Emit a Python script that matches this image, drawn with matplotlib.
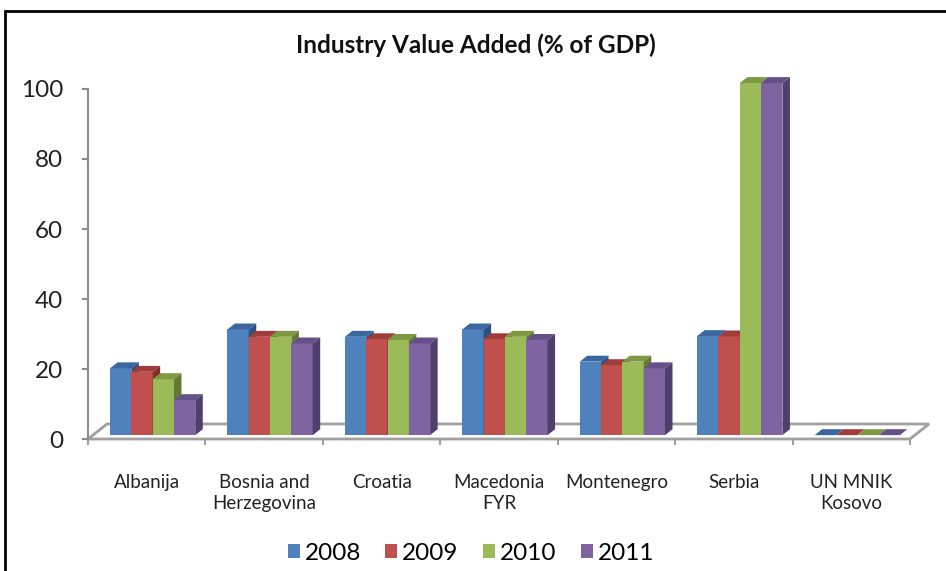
import numpy as np
import matplotlib
matplotlib.use('Agg')
import matplotlib.pyplot as plt
from matplotlib.patches import Polygon, Rectangle, Patch

plt.rcParams['font.family'] = ['Lato', 'DejaVu Sans']

countries = ['Albanija', 'Bosnia and\nHerzegovina', 'Croatia', 'Macedonia\nFYR',
             'Montenegro', 'Serbia', 'UN MNIK\nKosovo']
years = ['2008', '2009', '2010', '2011']
v2008 = [20.2, 31.3, 29.2, 31.3, 22.1, 29.4, 0]
v2009 = [19.2, 29.2, 28.5, 28.5, 21.1, 29.3, 0]
v2010 = [17.1, 29.2, 28.3, 29.2, 22.1, 101.7, 0]
v2011 = [11.1, 27.3, 27.3, 28.3, 20.2, 101.7, 0]
yticks = [0, 20, 40, 60, 80, 100]

front = ['#4F81BD', '#C0504D', '#9BBB59', '#8064A2']
top_c = ['#3A67A0', '#A03C3A', '#7D9A42', '#65508A']
side_c = ['#2F5182', '#7F302E', '#637A34', '#4F3F6D']

fig = plt.figure(figsize=(9.46, 5.71), dpi=100)
W, H = 946, 571
ax = fig.add_axes([88 / W, (H - 439) / H, 822 / W, 350 / H])
ax.set_xlim(-0.5, 6.5)
ax.set_ylim(0, 100)

x = np.arange(len(countries))
base = 1.1          # floor level of the front faces
bw = 0.1815         # bar width
off0 = -0.3125      # left edge of first bar relative to category centre
ddx, ddy = 0.064, 1.7   # bar depth offset

gray = '#A0A0A0'
# floor
fdx, fdy = 0.162, 4.3
floor = Polygon([(-0.5, 0), (6.5, 0), (6.5 + fdx, fdy), (-0.5 + fdx, fdy)],
                closed=True, fill=False, edgecolor=gray, lw=2, clip_on=False, zorder=1)
ax.add_patch(floor)

for i, vals in enumerate([v2008, v2009, v2010, v2011]):
    vals = np.array(vals, dtype=float)
    h = np.maximum(vals - base, 0)
    left = x + off0 + i * bw
    ax.bar(left, h, width=bw, bottom=base, align='edge', color=front[i],
           edgecolor='none', clip_on=False, zorder=3 + i)
    for xl, hv in zip(left, h):
        t = base + hv
        ax.add_patch(Polygon([(xl, t), (xl + bw, t), (xl + bw + ddx, t + ddy), (xl + ddx, t + ddy)],
                             closed=True, facecolor=top_c[i], edgecolor='none',
                             clip_on=False, zorder=3 + i))
        if hv > 0:
            ax.add_patch(Polygon([(xl + bw, base), (xl + bw + ddx, base + ddy),
                                  (xl + bw + ddx, t + ddy), (xl + bw, t)],
                                 closed=True, facecolor=side_c[i], edgecolor='none',
                                 clip_on=False, zorder=3 + i))

for s in ['top', 'right', 'bottom']:
    ax.spines[s].set_visible(False)
ax.spines['left'].set_color('#8C8C8C')
ax.spines['left'].set_linewidth(1.5)

ax.set_yticks(yticks)
ax.set_yticklabels([str(t) for t in yticks], fontsize=17.5, color='#222222')
ax.tick_params(axis='y', length=4.3, width=1.5, color='#8C8C8C', pad=13.5)

ax.set_xticks(x)
ax.set_xticklabels(countries, fontsize=13.5, color='#222222', linespacing=1.3)
ax.set_xticks(np.arange(-0.5, 7, 1), minor=True)
ax.tick_params(axis='x', which='major', length=0, pad=25)
ax.tick_params(axis='x', which='minor', length=4.3, width=1.5, color=gray, direction='out')

fig.text(476 / W, 1 - 45 / H, 'Industry Value Added (% of GDP)', fontsize=17.5,
         fontweight='bold', ha='center', va='center', color='#111111')

handles = [Patch(facecolor=c, edgecolor='none') for c in front]
fig.legend(handles, years, loc='center', bbox_to_anchor=(471 / W, 1 - 553 / H),
           ncol=4, frameon=False, fontsize=17.5, handlelength=0.5, handleheight=0.5,
           handletextpad=0.2, columnspacing=1.0)

fig.add_artist(Rectangle((5 / W, -0.1), 1.2, 1 - 11 / H + 0.1, transform=fig.transFigure,
                         fill=False, edgecolor='black', lw=2))

fig.savefig('out.png', dpi=100)
